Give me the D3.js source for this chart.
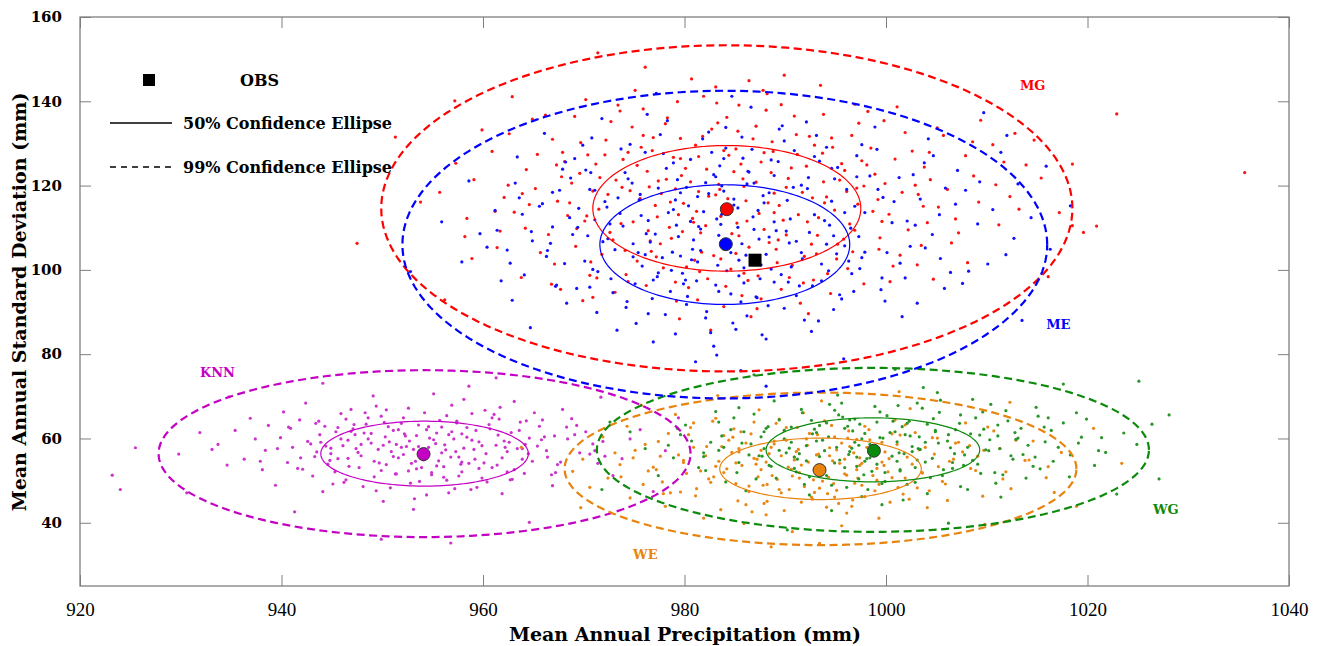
<!DOCTYPE html>
<html>
<head>
<meta charset="utf-8">
<script src="https://cdn.jsdelivr.net/npm/d3@7"></script>
<style>
  body { margin: 0; background: #fff; }
  svg { display: block; }
  .tick text { fill: #000; }
</style>
</head>
<body>
<svg id="chart" width="1321" height="646"></svg>
<script>
// axis ticks
var xTicks = [920, 940, 960, 980, 1000, 1020, 1040];
var yTicks = [40, 60, 80, 100, 120, 140, 160];

// group names, colours and label positions (data coords)
var groups = ['KNN', 'WE', 'WG', 'MG', 'ME'];
var groupColors = ['#c400c4', '#e8830e', '#0b8a0b', '#ff0000', '#0000ff'];
var pointColors = ['#cc33cc', '#ea8614', '#2a962a', '#ff1010', '#1010ff'];
var labelPos = [[931.9, 74.7], [974.9, 31.3], [1026.5, 42.2], [1013.3, 142.7], [1015.9, 86.0]];

// mean of each ensemble (big dots)
var meanX = [954.1, 993.4, 998.8, 984.2, 984.1];
var meanY = [56.3, 52.5, 57.1, 114.4, 106.1];

// confidence ellipses: centre, semi-axes
var ellCx = [954.2, 993.5, 998.7, 984.2, 984.0];
var ellCy = [56.4, 52.8, 57.3, 114.6, 106.0];
var rx50 = [10.3, 10.0, 10.6, 13.3, 12.4];
var ry50 = [7.7, 7.3, 7.6, 14.9, 14.2];
var rx99 = [26.4, 25.4, 27.4, 34.3, 32.0];
var ry99 = [19.8, 18.1, 19.45, 38.7, 36.5];

// observation
var obsX = 987.0, obsY = 102.3;

// ensemble members (read approx. off the picture)
var knnPoints = [[954.6,57.9],[948.2,61.3],[960.1,54.2],[943.5,56.8],[965.8,59.7],[951.3,51.6],[957.4,64.1],[939.9,60.2],[962.9,50.3],[946.7,53.4],
[955.9,62.7],[971.1,57.1],[950.4,66.8],[958.8,47.9],[936.3,55.1],[963.7,63.9],[945.1,49.2],[952.7,59.4],[967.4,53.8],[941.8,64.4],
[956.8,55.6],[949.6,57.4],[961.5,60.8],[944.3,62.9],[953.2,45.7],[970.2,61.6],[947.9,55.9],[958.1,69.3],[933.7,58.6],[964.5,56.4],
[951.9,63.6],[943.1,51.1],[959.6,52.9],[955.3,58.8],[938.7,63.1],[966.9,48.8],[949.1,70.1],[961.1,65.7],[946.1,58.3],[973.8,55.2],
[953.9,53.1],[940.6,54.3],[957.9,61.1],[962.2,57.9],[950.8,48.3],[945.9,65.9],[968.8,64.7],[954.2,66.1],[935.4,61.9],[959.2,55.1],
[947.3,60.9],[964.1,51.7],[952.1,56.2],[942.4,68.4],[960.7,62.3],[956.1,50.8],[971.9,59.3],[944.9,57.7],[949.9,52.4],[963.1,68.8],
[929.8,56.3],[957.1,59.9],[953.1,43.2],[938.1,52.6],[966.1,60.4],[948.6,64.9],[961.9,46.9],[951.1,61.9],[975.6,62.1],[943.9,59.1],
[955.6,54.7],[958.6,72.4],[946.4,50.2],[969.6,56.6],[940.2,66.3],[952.4,58.1],[964.9,54.6],[949.4,67.7],[957.6,51.1],[934.6,53.7],
[962.6,59.1],[945.6,55.2],[953.6,63.2],[967.9,66.9],[941.1,57.9],[959.9,58.3],[950.1,45.1],[956.4,65.4],[947.1,62.3],[972.9,51.2],
[937.4,59.9],[961.4,53.7],[954.9,51.9],[943.7,64.1],[965.4,58.2],[951.6,55.4],[958.4,62.6],[948.9,58.9],[978.1,57.1],[939.4,48.9],
[956.6,47.1],[963.6,61.9],[946.9,66.9],[953.4,60.7],[960.4,49.7],[944.6,53.9],[970.9,58.7],[950.6,62.8],[957.3,56.9],[931.9,61.4],
[966.4,55.6],[942.9,58.7],[955.1,70.6],[948.1,48.6],[961.7,67.4],[952.9,54.1],[936.9,64.8],[964.3,64.2],[945.4,61.6],[959.1,57.4],
[951.4,58.6],[974.6,59.9],[947.6,56.7],[956.9,61.6],[940.9,62.4],[962.4,52.1],[953.7,49.8],[968.3,62.7],[943.3,55.7],[958.9,59.6],
[949.2,54.6],[965.1,66.1],[955.4,53.5],[938.4,57.2],[960.9,64.9],[946.6,59.6],[952.6,67.2],[971.4,54.1],[944.1,47.4],[957.9,54.4],
[963.9,57.6],[950.3,60.4],[941.6,52.9],[954.4,62.1],[967.2,51.9],[948.4,63.4],[959.4,48.4],[933.1,57.4],[956.2,58.5],[969.1,60.9],
[923.2,51.3],[924.0,47.9],[925.5,57.8],[930.6,47.1],[956.8,35.2],[949.9,36.1],[944.1,73.1],[961.3,74.4],[976.9,47.4],[979.4,64.9],
[934.8,69.9],[971.7,69.8],[964.6,40.1],[941.3,42.6],
[953.9,56.1],[950.7,59.2],[957.8,53.9],[947.4,57.6],[961.3,58.4],[954.9,51.4],[951.6,62.1],[958.4,60.3],[944.8,54.8],[963.9,55.1],
[955.7,64.3],[949.2,50.9],[960.6,63.3],[946.9,61.7],[953.3,54.6],[966.3,57.1],[942.6,59.3],[957.2,48.1],[951.1,55.7],[962.8,61.4],
[948.3,66.1],[955.1,59.7],[959.9,50.6],[945.6,62.6],[952.6,52.3],[968.4,59.9],[956.3,57.3],[941.9,55.4],[963.1,52.6],[950.2,63.8],
[954.4,46.6],[958.9,65.9],[947.7,53.1],[965.6,62.9],[952.3,60.6],[939.6,57.6],[960.3,56.4],[956.9,67.9],[946.2,49.6],[967.7,54.4],
[951.9,57.9],[962.1,59.4],[943.8,60.9],[957.6,55.6],[949.7,54.2],[970.6,56.3],[954.6,62.8],[945.3,52.1],[959.3,61.9],[952.8,49.4],
[964.6,60.1],[948.6,59.9],[956.1,53.3],[940.7,62.7],[961.6,64.6],[953.6,58.1],[947.2,63.3],[966.8,51.4],[950.9,56.9],[958.1,57.7],
[944.4,58.2],[962.4,56.9],[955.4,61.3],[949.4,47.6],[969.3,63.1],[952.1,64.9],[957.9,52.1],[946.6,55.3],[960.9,53.1],[953.1,57.4],
[937.9,54.6],[964.2,58.6],[950.4,53.8],[956.6,60.9],[948.9,61.2],[972.1,55.8],[954.1,54.9],[943.4,63.6],[959.6,59.2],[951.4,51.6],
[965.9,64.4],[947.9,58.6],[957.4,63.7],[953.4,52.8],[961.9,55.4],[945.9,59.9],[955.9,56.6],[949.9,65.3],[963.4,57.6],[942.1,52.7],
[958.6,54.1],[952.2,61.1],[967.1,60.6],[944.9,56.4],[956.4,50.1],[950.1,58.4],[960.2,66.7],[954.7,60.1],[946.4,64.6],[962.7,50.2]];

var wePoints = [[993.9,53.1],[987.6,57.2],[999.1,50.1],[983.4,54.6],[1004.8,56.3],[990.4,47.9],[996.2,60.1],[980.2,51.7],[1001.7,46.8],[986.1,58.9],
[994.8,49.3],[977.6,55.8],[991.2,62.6],[1008.9,52.4],[985.3,45.2],[998.1,57.9],[972.4,50.6],[993.1,56.1],[1002.9,61.4],[988.7,51.2],
[983.9,60.7],[996.7,45.4],[990.9,54.9],[1011.3,57.6],[979.6,47.3],[999.8,53.6],[986.9,63.9],[994.1,43.7],[975.1,57.2],[1005.6,49.8],
[992.2,58.4],[981.6,52.3],[997.4,55.4],[988.1,41.9],[1013.8,54.8],[984.7,56.7],[1000.9,64.4],[978.4,61.2],[995.9,51.6],[989.6,47.1],
[1007.2,59.1],[987.1,53.9],[974.6,45.9],[1003.6,51.9],[991.8,66.1],[982.6,49.6],[998.9,47.6],[969.9,55.1],[995.1,57.3],[985.9,39.8],
[1009.6,46.3],[990.1,59.6],[976.9,53.2],[1001.1,58.6],[993.4,48.2],[983.1,64.8],[997.9,62.9],[987.9,44.6],[1015.9,50.7],[980.9,57.9],
[994.4,55.9],[1004.1,43.6],[971.9,60.4],[989.2,50.3],[999.6,54.4],[985.6,61.6],[1006.7,55.1],[978.1,43.9],[992.7,45.6],[1002.4,67.1],
[988.4,56.4],[981.1,46.4],[996.9,49.4],[1010.7,61.8],[975.9,49.1],[991.4,51.9],[1000.4,44.9],[984.2,52.8],[1017.4,56.7],[994.6,63.1],
[986.4,48.7],[973.6,53.8],[998.4,59.7],[990.7,37.9],[1005.2,53.3],[982.2,58.1],[996.1,42.3],[979.1,65.7],[1003.1,48.3],[989.9,61.9],
[992.9,47.2],[1012.4,48.1],[977.4,59.3],[995.4,54.1],[987.4,66.8],[1001.9,50.6],[983.6,43.1],[970.6,48.4],[997.1,52.6],[1007.9,63.7],
[991.1,56.9],[985.1,54.2],[1014.6,59.4],[999.3,41.1],[980.6,62.6],[994.9,46.1],[988.9,58.7],[1003.9,57.9],[976.4,52.3],[993.6,68.9],
[982.9,50.9],[1000.6,61.1],[986.7,42.6],[1009.1,55.8],[997.6,48.9],[973.1,56.6],[990.6,52.7],[1006.1,45.3],[984.8,60.3],[995.6,39.3],
[979.9,54.8],[1002.1,55.6],[988.2,49.1],[1011.9,52.1],[993.2,60.9],[977.9,46.9],[998.7,51.2],[985.4,57.6],[1004.6,60.2],[991.6,44.9],
[968.9,52.2],[996.4,58.1],[1016.7,47.2],[987.2,55.1],[981.9,41.1],[999.9,56.8],[974.3,62.9],[994.3,50.8],[1008.3,58.3],[989.4,64.6],
[993.4,35.1],[1018.9,43.9],[969.7,43.6],[975.7,67.9],[1020.6,62.4],[1001.3,71.1],[983.3,70.2],[963.8,57.9],[1023.4,54.1],[988.6,34.3],
[1012.3,68.6],[1009.8,39.6],
[993.1,52.4],[989.6,55.9],[997.2,50.6],[985.7,53.6],[1000.3,55.2],[991.9,48.6],[995.6,58.9],[982.4,50.4],[1003.6,51.8],[988.9,59.4],
[994.2,46.9],[979.9,54.3],[998.3,62.1],[986.4,47.4],[1006.3,54.6],[990.3,53.2],[996.8,56.6],[983.7,58.1],[1001.2,48.4],[992.4,61.2],
[987.3,50.9],[999.6,59.1],[977.2,52.6],[994.7,54.7],[1009.7,57.2],[988.2,45.1],[996.1,51.3],[984.9,62.3],[1002.6,53.9],[991.3,57.4],
[981.2,48.1],[997.9,46.2],[989.1,63.6],[1005.1,60.1],[993.7,49.9],[976.1,58.6],[999.1,52.9],[986.9,55.3],[1011.6,50.4],[992.1,59.9],
[983.1,53.4],[995.3,44.6],[990.7,51.1],[1007.6,56.8],[980.4,60.9],[997.6,54.1],[987.8,48.9],[1001.9,63.2],[994.4,57.8],[978.6,47.1],
[991.6,53.7],[1004.3,47.6],[985.4,56.8],[998.7,58.4],[989.9,42.9],[1012.9,59.6],[983.9,51.9],[996.3,61.8],[992.8,50.2],[974.9,55.4],
[1000.6,50.7],[988.6,57.9],[995.1,47.7],[982.8,64.1],[1008.4,52.9],[990.9,55.6],[997.4,53.6],[986.1,44.3],[1003.3,57.3],[993.9,64.2],
[979.4,56.1],[999.3,49.1],[987.6,52.6],[1014.2,54.9],[992.6,46.1],[984.4,59.6],[1001.4,60.8],[995.9,55.1],[977.8,49.7],[990.1,62.6],
[1005.9,49.2],[988.1,54.4],[996.6,43.9],[982.1,55.9],[998.9,56.1],[991.4,50.6],[1010.1,62.7],[985.1,49.3],[994.9,60.4],[1002.3,45.6],
[980.9,63.7],[993.3,56.3],[1006.9,58.9],[989.4,47.9],[997.1,59.8],[973.7,50.9],[992.3,54.4],[1016.1,53.3],[986.6,61.1],[1000.2,52.1]];

var wgPoints = [[998.4,58.6],[1004.9,61.9],[992.1,54.7],[1010.2,57.1],[987.6,60.4],[1001.4,52.3],[995.7,65.1],[1014.8,55.6],[983.9,57.9],[1007.3,63.6],
[999.9,49.8],[990.6,62.7],[1019.4,60.3],[996.3,56.2],[1003.1,68.4],[985.2,51.9],[1011.6,51.4],[993.7,59.6],[1006.6,54.3],[980.1,63.2],
[1001.9,60.9],[997.1,53.4],[1016.1,64.9],[989.4,57.2],[1008.1,47.9],[994.9,66.7],[1002.6,56.9],[978.9,55.4],[1012.9,59.8],[991.9,49.1],
[999.1,63.9],[1021.8,56.7],[986.9,65.8],[1004.4,50.7],[993.1,61.4],[1009.6,66.3],[982.6,59.1],[997.6,46.2],[1015.3,52.8],[1000.6,55.8],
[988.4,53.6],[1006.1,59.4],[995.2,70.3],[1013.4,62.4],[976.1,57.6],[1002.3,64.1],[991.4,56.4],[1018.2,50.9],[997.9,61.2],[984.6,62.1],
[1007.8,56.1],[994.1,51.2],[1003.7,72.1],[989.9,59.9],[1011.1,60.6],[999.6,44.3],[981.4,53.1],[1005.3,66.2],[996.6,57.7],[1023.6,61.3],
[992.6,64.3],[1009.1,53.9],[986.1,47.6],[1001.1,59.2],[1017.1,57.9],[995.4,54.9],[979.6,60.9],[1004.1,46.9],[998.9,67.6],[1012.1,64.2],
[990.4,57.7],[1005.7,52.6],[983.1,66.4],[1001.6,62.8],[994.6,42.9],[1014.1,58.4],[987.4,55.9],[1008.6,69.3],[997.3,50.4],[1020.7,53.6],
[985.7,58.9],[1003.4,57.4],[993.4,63.1],[1010.9,49.4],[977.4,51.2],[999.4,60.2],[1006.9,62.1],[988.9,68.9],[1015.7,62.7],[996.1,48.4],
[1002.9,53.1],[974.6,61.6],[991.1,52.1],[1009.9,57.3],[998.1,55.2],[984.1,49.7],[1018.9,66.1],[993.9,57.1],[1005.1,70.9],[1000.1,65.4],
[987.9,61.6],[1012.6,55.1],[996.9,59.1],[981.9,56.6],[1007.4,48.6],[991.7,66.1],[1003.9,54.4],[1024.9,58.6],[995.9,62.4],[1010.4,68.1],
[989.1,50.6],[1001.3,56.6],[983.4,63.9],[1013.1,60.1],[998.6,52.2],[992.4,46.6],[1016.6,54.6],[1004.7,64.7],[986.4,56.1],[1000.9,61.6],
[994.4,68.1],[1008.4,61.1],[978.4,58.4],[1002.1,49.1],[997.4,63.4],[1019.9,64.6],[990.9,55.6],[1011.4,46.1],[985.4,67.3],[999.2,57.1],
[1006.4,57.8],[993.1,52.9],[1014.9,67.4],[982.1,52.4],[1003.3,60.4],[996.4,64.4],[1009.4,51.7],[988.1,62.4],[1001.7,45.4],[1021.1,57.1],
[1025.1,73.6],[1028.1,65.6],[1026.4,63.4],[1000.9,76.4],[972.6,63.9],[1022.9,46.8],[986.9,75.1],[1017.6,72.9],[990.2,38.3],[1006.2,39.9],
[971.8,47.9],[1027.1,50.4],
[998.6,57.1],[1002.4,60.6],[994.9,54.2],[1006.8,56.4],[990.6,59.1],[999.9,51.9],[1004.1,63.4],[987.7,55.8],[1010.3,59.7],[996.2,62.9],
[1001.1,54.6],[992.4,50.9],[1013.6,56.2],[997.6,59.9],[985.9,61.6],[1005.6,51.2],[995.1,57.9],[1008.9,64.9],[991.2,55.1],[1003.2,57.6],
[999.4,66.3],[983.4,57.2],[1016.4,61.9],[994.3,60.4],[1002.9,49.6],[989.4,64.4],[1007.7,53.6],[997.1,55.6],[1011.9,66.6],[993.6,52.3],
[1000.4,61.4],[980.7,59.4],[1014.6,53.4],[996.9,64.6],[1005.2,58.9],[988.6,53.4],[1001.8,56.4],[1019.1,58.9],[992.9,62.2],[998.2,47.9],
[1009.7,62.2],[986.6,58.7],[1004.6,55.3],[995.6,68.4],[1012.4,55.9],[990.1,56.6],[1002.1,63.6],[999.1,53.9],[1017.6,63.7],[984.9,64.9],
[1006.2,60.9],[994.6,48.9],[1003.6,67.2],[989.9,61.9],[1010.8,51.9],[997.3,58.4],[981.9,55.7],[1008.1,57.9],[993.1,59.4],[1001.4,52.6],
[1015.1,65.3],[996.4,56.9],[987.1,50.4],[1004.9,61.6],[999.7,60.1],[991.6,66.9],[1011.3,57.6],[995.9,53.1],[1021.4,60.2],[1003.1,54.9],
[988.3,62.8],[1007.4,65.6],[998.4,55.4],[992.1,58.3],[1013.9,50.6],[1000.7,64.1],[985.4,54.3],[1006.6,52.9],[994.1,63.7],[1009.3,60.8],
[997.8,51.4],[983.7,60.6],[1002.6,58.1],[990.9,52.9],[1018.3,56.1],[996.7,61.8],[1005.4,69.1],[993.4,55.7],[1011.1,63.2],[999.6,49.3],
[987.9,57.6],[1003.9,59.1],[1015.8,59.2],[995.3,65.6],[1008.6,54.8],[979.3,62.4],[1001.2,67.8],[992.7,61.1],[1012.8,61.4],[997.9,54.6]];

var mgPoints = [[984.5,114.0],[978.2,121.5],[990.1,108.3],[972.4,117.9],[995.6,125.2],[981.0,102.3],[988.7,130.4],[969.3,109.8],[999.2,116.7],[976.8,128.3],
[986.3,97.5],[962.5,120.1],[1004.1,111.2],[983.2,139.6],[991.5,92.1],[974.1,104.6],[997.3,134.8],[966.9,131.0],[1008.7,122.3],[979.5,88.4],
[985.9,119.8],[982.1,110.5],[989.4,115.3],[977.3,112.6],[993.8,120.9],[970.6,98.7],[1001.4,103.5],[975.9,138.2],[994.2,99.1],[987.6,125.6],
[958.4,112.2],[1012.3,117.4],[980.4,95.8],[968.1,125.7],[998.5,128.9],[983.7,106.9],[973.2,121.3],[990.9,136.5],[965.7,104.1],[1003.8,124.4],
[981.8,131.7],[996.4,110.9],[971.5,114.4],[986.9,102.8],[979.1,119.2],[992.7,117.1],[976.2,96.3],[988.2,141.8],[960.9,128.1],[1006.5,106.4],
[984.9,123.3],[974.8,133.9],[999.9,120.5],[967.4,116.3],[993.1,103.8],[982.6,85.7],[970.2,140.4],[1010.6,129.7],[978.7,107.5],[989.8,111.8],
[963.8,98.2],[1001.9,132.6],[985.4,108.1],[975.3,124.8],[997.8,96.7],[980.7,145.3],[991.2,127.4],[968.8,120.6],[1005.2,114.9],[983.9,91.3],
[972.9,107.1],[994.9,114.2],[987.1,134.1],[977.9,100.5],[1015.4,121.8],[955.7,118.4],[989.1,104.9],[981.4,126.9],[966.2,136.7],[1000.7,100.9],
[985.1,128.7],[973.7,111.0],[996.9,139.3],[979.9,115.8],[992.3,89.6],[961.7,109.2],[1007.9,127.1],[976.5,119.7],[988.9,118.2],[970.9,93.5],
[982.9,103.4],[998.9,122.7],[967.9,127.9],[990.4,98.2],[975.1,142.6],[1003.2,117.9],[984.2,136.2],[978.5,110.1],[994.6,131.3],[964.6,115.5],
[1011.2,110.7],[987.4,113.4],[971.8,103.7],[999.4,107.6],[980.1,124.1],[993.5,143.8],[969.6,122.9],[985.7,93.9],[1002.6,128.2],[976.9,131.4],
[957.3,125.3],[990.3,121.7],[982.4,117.5],[974.4,97.2],[1009.4,135.5],[988.4,106.5],[963.1,113.7],[996.1,118.6],[979.3,139.9],[1013.9,124.9],
[986.6,88.9],[972.2,130.8],[1000.3,113.2],[983.4,120.3],[967.1,101.4],[992.9,129.6],[977.6,106.2],[1004.7,97.8],[981.2,113.9],[959.9,133.2],
[995.2,106.1],[975.6,116.9],[989.9,146.2],[970.1,111.6],[1006.1,119.1],[984.6,100.2],[962.9,141.1],[998.2,137.6],[979.7,122.4],[991.8,96.9],
[966.5,108.4],[987.9,127.8],[1017.2,113.6],[973.9,126.2],[982.3,97.9],[993.3,112.4],[976.1,148.1],[1002.2,109.5],[953.8,116.1],[985.3,132.9],
[969.9,92.7],[997.6,125.9],[980.9,111.3],[988.6,123.1],[974.6,118.8],[1008.1,101.7],[983.1,143.4],[964.3,123.8],[994.5,94.4],[977.2,103.1],
[1001.1,138.7],[986.1,116.4],[961.4,105.3],[991.1,132.1],[972.7,135.2],[1004.4,121.4],[981.6,108.8],[968.4,112.9],[996.7,104.3],[987.2,90.8],
[975.7,129.1],[1014.7,130.8],[979.2,92.6],[992.1,124.6],[965.2,119.3],[999.6,111.5],[984.4,127.2],[958.9,102.7],[989.6,139.2],[971.2,125.1],
[1003.5,105.8],[978.1,134.7],[993.9,115.9],[983.6,112.7],[967.7,95.4],[1010.9,120.2],[976.4,109.3],[986.4,144.9],[962.1,117.2],[997.1,119.4],
[981.5,99.6],[1019.6,108.9],[973.4,139.1],[990.7,101.1],[985.2,111.1],[970.4,127.3],[1005.7,131.9],[979.6,126.4],[995.8,107.3],[964.9,135.8],
[1035.6,123.1],[1022.9,137.0],[1020.9,110.4],[1018.5,125.1],[1018.5,110.5],[947.5,106.3],[957.2,140.1],[971.4,151.5],[1012.8,132.4],[951.3,131.5],
[1016.1,98.4],[956.2,92.9],
[983.1,117.8],[987.9,109.6],[979.4,113.1],[991.7,118.4],[976.6,106.9],[985.6,125.1],[989.2,101.7],[973.8,119.6],[995.4,121.3],[981.7,104.2],
[986.8,131.1],[970.3,112.8],[998.7,113.9],[978.9,126.7],[992.6,106.1],[967.8,122.1],[1002.9,120.1],[984.1,96.1],[975.3,102.1],[993.7,127.7],
[980.6,120.9],[988.3,115.9],[972.1,127.3],[996.2,100.3],[982.7,133.4],[969.2,105.6],[1000.9,126.3],[985.1,103.9],[977.1,115.3],[990.6,124.2],
[963.9,118.1],[1006.9,112.1],[983.9,128.3],[974.2,98.9],[994.1,117.3],[979.8,109.1],[988.1,137.9],[971.6,121.9],[999.3,104.9],[986.2,111.6],
[965.4,127.4],[1004.3,127.9],[981.3,92.9],[991.3,113.1],[976.3,123.4],[996.6,131.9],[983.5,119.1],[970.7,101.9],[1009.2,116.1],[987.3,98.6],
[978.3,136.1],[993.2,108.2],[961.2,113.9],[985.8,121.6],[999.8,135.4],[974.9,111.4],[989.6,95.4],[981.9,141.2],[966.8,96.6],[1003.1,101.2],
[977.7,118.1],[992.4,131.7],[984.7,108.6],[969.7,130.2],[997.2,115.6],[980.2,100.7],[1011.7,125.6],[988.8,128.1],[973.1,94.7],[995.9,123.6],
[982.2,123.9],[959.1,121.4],[1001.6,118.4],[986.4,105.4],[975.9,131.9],[990.1,119.6],[979.1,97.1],[1007.2,108.8],[968.6,115.9],[993.8,136.9],
[984.3,116.9],[972.6,108.9],[998.1,124.9],[981.1,129.6],[987.6,93.1],[964.2,109.9],[1005.1,133.7],[977.4,121.1],[991.9,103.2],[983.6,102.6],
[970.9,118.7],[996.9,109.4],[979.6,131.2],[988.9,113.6],[1013.2,114.4],[974.4,127.9],[992.8,97.6],[985.4,139.1],[962.6,132.3],[1000.4,97.2],
[980.8,112.2],[994.7,129.1],[976.7,104.4],[987.1,120.8],[967.3,124.9],[1003.7,115.1],[983.3,134.9],[971.3,98.1],[997.8,119.9],[989.3,107.1],
[978.6,116.1],[1008.6,130.4],[985.9,99.2],[973.6,137.7],[992.2,111.4],[981.4,118.6],[958.2,107.9],[995.1,102.6],[987.8,142.6],[969.1,136.4]];

var mePoints = [[983.8,105.7],[990.5,112.1],[977.4,99.3],[995.1,103.8],[972.6,110.9],[986.2,120.4],[980.3,93.7],[999.7,117.2],[968.1,101.5],[988.9,97.1],
[975.5,116.6],[993.4,125.8],[982.1,88.6],[1004.6,108.4],[963.9,113.2],[985.7,131.5],[978.8,104.2],[996.8,94.9],[970.2,123.7],[991.1,106.8],
[981.4,110.3],[987.6,101.2],[974.3,92.5],[1001.3,121.9],[966.7,106.3],[984.9,115.4],[992.6,85.4],[977.9,127.6],[1008.2,99.7],[973.1,104.8],
[986.9,109.6],[979.6,118.3],[995.9,113.6],[961.8,97.4],[983.2,79.8],[989.7,134.2],[976.4,111.7],[1003.1,92.1],[970.8,131.3],[985.4,98.6],
[997.9,104.2],[980.7,102.4],[967.6,118.9],[992.2,119.3],[975.2,87.3],[1010.6,114.3],[983.5,124.7],[988.3,91.5],[972.7,97.9],[999.1,128.6],
[964.8,109.1],[986.1,103.5],[978.3,135.4],[994.3,99.8],[981.9,113.8],[1005.4,102.7],[969.5,114.6],[990.2,116.5],[976.9,82.9],[984.6,94.3],
[958.6,121.1],[996.5,109.9],[982.7,127.9],[971.3,89.9],[1001.9,98.1],[987.3,114.1],[974.8,120.6],[993.1,131.9],[980.1,97.6],[966.3,103.2],
[1012.7,107.5],[985.1,85.9],[977.1,108.5],[991.7,102.6],[969.1,126.4],[998.4,122.3],[983.9,118.7],[962.9,92.8],[988.6,126.1],[975.8,100.9],
[1006.9,115.6],[980.9,107.1],[994.8,90.6],[972.1,116.2],[986.6,138.6],[978.6,94.9],[1000.6,111.2],[967.2,96.1],[989.1,109.3],[983.3,101.1],
[974.6,129.8],[996.1,119.1],[960.4,105.4],[991.4,96.2],[979.3,121.4],[1003.8,125.4],[985.6,92.4],[970.4,108.1],[994.1,106.1],[982.4,132.7],
[965.9,115.7],[988.1,83.6],[976.1,103.6],[1009.3,120.9],[983.6,110.8],[971.8,135.9],[997.4,100.3],[980.4,115.2],[992.9,113.1],[957.9,101.9],
[986.4,123.2],[978.1,89.4],[1002.4,105.6],[968.7,121.8],[990.9,128.3],[975.1,96.7],[984.3,106.9],[999.5,95.3],[963.4,126.8],[987.8,117.6],
[981.1,78.2],[994.6,124.1],[973.6,113.4],[1014.4,112.4],[985.9,100.5],[977.6,132.1],[991.9,88.1],[966.9,110.2],[1004.2,131.1],[982.9,122.6],
[970.9,100.1],[996.9,115.1],[979.1,84.8],[988.4,107.8],[974.1,123.1],[1007.6,96.8],[984.1,128.9],[961.2,114.1],[993.6,97.4],[980.6,111.5],
[1000.1,104.1],[976.6,106.6],[989.4,133.4],[968.3,92.1],[985.3,114.7],[997.1,127.1],[972.4,107.4],[983.1,96.4],[1010.1,101.4],[978.9,125.4],
[991.6,120.1],[964.1,98.8],[987.1,93.6],[975.6,117.9],[998.9,133.9],[981.6,104.6],[969.9,129.6],[994.4,110.6],[984.7,141.2],[959.7,108.6],
[1005.9,119.4],[979.8,99.2],[990.6,100.7],[973.3,85.7],[986.8,112.6],[1001.6,88.9],[967.9,123.9],[983.7,119.9],[995.6,93.1],[976.3,136.9],
[988.9,122.4],[971.1,111.9],[1016.3,104.9],[982.2,90.1],[963.6,117.1],[992.4,108.9],[977.3,98.4],[1003.4,116.8],[985.8,126.5],[969.3,95.6],
[997.6,129.7],[980.2,119.6],[955.9,111.4],[989.9,90.9],[974.9,103.1],[1011.4,127.9],[983.4,108.2],[966.1,132.4],[994.9,121.6],[978.4,113.6],
[987.5,97.9],[1002.9,110.6],[970.6,119.1],[984.8,87.4],[992.1,135.1],[976.8,93.2],[1007.1,123.6],[981.3,101.9],[962.4,104.7],[996.3,102.1],
[1015.9,124.6],[1013.5,88.0],[1012.0,131.9],[985.6,76.1],[977.2,141.9],[995.8,78.9],[952.8,99.6],[1018.3,115.2],[964.7,86.3],[1009.7,137.3],
[988.1,72.4],
[984.6,104.1],[979.2,110.6],[989.6,98.9],[974.9,106.2],[993.9,111.7],[981.3,117.4],[987.2,93.4],[971.4,99.6],[997.3,107.9],[983.1,122.1],
[976.4,89.6],[990.8,119.6],[968.6,112.4],[1001.4,101.6],[985.3,110.1],[979.9,96.7],[995.2,124.3],[973.4,117.1],[988.1,103.7],[982.6,85.1],
[1005.3,113.1],[966.4,104.6],[986.7,128.6],[977.8,102.9],[992.7,96.2],[970.7,123.1],[999.2,119.1],[984.2,99.8],[975.7,112.9],[990.1,109.2],
[962.7,101.6],[1003.9,105.2],[981.8,131.1],[987.9,115.9],[972.9,94.6],[996.6,99.1],[983.7,113.2],[978.2,124.1],[993.3,87.9],[968.9,108.4],
[1009.1,110.9],[985.9,96.9],[974.4,121.6],[989.3,125.7],[980.8,104.9],[999.9,92.6],[965.6,115.1],[987.4,107.3],[976.9,97.6],[994.6,116.3],
[982.4,118.1],[971.9,106.7],[1002.7,122.6],[986.2,89.1],[978.9,114.3],[991.6,104.1],[967.3,96.4],[997.9,113.6],[983.9,126.4],[973.9,110.4],
[988.6,100.2],[980.2,91.8],[1006.4,99.4],[976.1,127.9],[992.3,121.9],[985.4,102.3],[963.2,120.6],[995.9,105.7],[979.4,107.9],[989.9,130.6],
[970.1,102.1],[1000.8,116.2],[983.4,94.9],[977.4,119.4],[993.6,101.4],[986.9,120.6],[974.2,91.1],[1004.7,127.1],[981.6,109.7],[968.2,125.6],
[991.1,93.9],[979.6,103.3],[997.1,122.1],[984.9,116.8],[972.3,114.9],[988.9,111.4],[961.4,109.4],[1011.9,103.6],[982.9,81.9],[994.1,129.1],
[976.2,108.6],[986.3,123.4],[999.6,98.1],[980.6,126.2],[970.6,95.9],[990.4,106.4],[1007.9,118.9],[983.2,112.1],[966.9,118.4],[995.4,94.1],
[978.7,99.9],[988.4,118.3],[973.7,128.7],[1002.1,111.6],[985.7,106.2],[981.2,97.4],[992.9,126.9],[969.4,110.1],[997.6,102.9],[984.1,133.8],
[975.4,104.1],[990.3,97.1],[1013.1,120.4],[979.1,116.6],[987.7,84.6],[964.9,106.9],[994.8,108.1],[982.1,120.7],[971.1,118.9],[1005.8,95.6]];

var groupPoints = [knnPoints, wePoints, wgPoints, mgPoints, mePoints];

var svg = d3.select('#chart');
var x = d3.scaleLinear().domain([920, 1040]).range([80, 1289]);
var y = d3.scaleLinear().domain([25, 160]).range([586, 17]);

var serif = '"DejaVu Serif", serif';
var tickFont = '"Liberation Serif", serif';

// ---- axes (ticks pointing inward, frame all round)
var axisColor = '#7f7f7f';
function styleAxis(g) {
  g.selectAll('.domain').remove();
  g.selectAll('.tick line').attr('stroke', axisColor);
}
svg.append('g').attr('transform', 'translate(0,586)')
  .call(d3.axisBottom(x).tickValues(xTicks).tickSizeInner(-11).tickSizeOuter(0).tickPadding(17).tickFormat(d3.format('d')))
  .call(styleAxis)
  .call(function(g) { g.selectAll('text').attr('font-family', tickFont).attr('font-size', 19); });
svg.append('g').attr('transform', 'translate(80,0)')
  .call(d3.axisLeft(y).tickValues(yTicks).tickSizeInner(-11).tickSizeOuter(0).tickPadding(18))
  .call(styleAxis)
  .call(function(g) { g.selectAll('text').attr('font-family', serif).attr('font-weight', 'bold').attr('font-size', 15); });
svg.append('g').attr('transform', 'translate(0,17)')
  .call(d3.axisTop(x).tickValues(xTicks).tickSizeInner(-11).tickSizeOuter(0).tickFormat(''))
  .call(styleAxis);
svg.append('g').attr('transform', 'translate(1289,0)')
  .call(d3.axisRight(y).tickValues(yTicks).tickSizeInner(-11).tickSizeOuter(0).tickFormat(''))
  .call(styleAxis);
svg.append('rect')
  .attr('x', x(920)).attr('y', y(160))
  .attr('width', x(1040) - x(920)).attr('height', y(25) - y(160))
  .attr('fill', 'none').attr('stroke', axisColor).attr('stroke-width', 1.3);

// axis titles
svg.append('text')
  .attr('x', 685).attr('y', 641)
  .attr('text-anchor', 'middle')
  .attr('font-family', serif).attr('font-weight', 'bold').attr('font-size', 19)
  .text('Mean Annual Precipitation (mm)');
svg.append('text')
  .attr('transform', 'translate(26,302) rotate(-90)')
  .attr('text-anchor', 'middle')
  .attr('font-family', serif).attr('font-weight', 'bold').attr('font-size', 19)
  .text('Mean Annual Standard Deviation (mm)');

// ---- scatter clouds
var plot = svg.append('g');
groups.forEach(function(name, i) {
  plot.append('g').selectAll('circle')
    .data(groupPoints[i])
    .enter().append('circle')
    .attr('cx', function(d) { return x(d[0]); })
    .attr('cy', function(d) { return y(d[1]); })
    .attr('r', 1.6)
    .attr('fill', pointColors[i]);
});

// ---- confidence ellipses
var angles = d3.range(0, 361, 2).map(function(a) { return a * Math.PI / 180; });
function ellipse(i, rx, ry) {
  return d3.line()
    .x(function(t) { return x(ellCx[i] + rx[i] * Math.cos(t)); })
    .y(function(t) { return y(ellCy[i] + ry[i] * Math.sin(t)); })(angles);
}
groups.forEach(function(name, i) {
  plot.append('path')
    .attr('d', ellipse(i, rx99, ry99))
    .attr('fill', 'none').attr('stroke', groupColors[i])
    .attr('stroke-width', 2.2).attr('stroke-dasharray', '8,4.5');
  plot.append('path')
    .attr('d', ellipse(i, rx50, ry50))
    .attr('fill', 'none').attr('stroke', groupColors[i])
    .attr('stroke-width', 1.2);
});

// ---- ensemble means
plot.selectAll('.mean')
  .data(groups)
  .enter().append('circle')
  .attr('class', 'mean')
  .attr('cx', function(d, i) { return x(meanX[i]); })
  .attr('cy', function(d, i) { return y(meanY[i]); })
  .attr('r', 6.5)
  .attr('fill', function(d, i) { return groupColors[i]; })
  .attr('stroke', '#333').attr('stroke-width', 1);

// observation
plot.append('rect')
  .attr('x', x(obsX) - 6.5).attr('y', y(obsY) - 6.5)
  .attr('width', 13).attr('height', 13)
  .attr('fill', '#000');

// group labels
svg.selectAll('.glabel')
  .data(groups)
  .enter().append('text')
  .attr('class', 'glabel')
  .attr('x', function(d, i) { return x(labelPos[i][0]); })
  .attr('y', function(d, i) { return y(labelPos[i][1]); })
  .attr('font-family', serif).attr('font-weight', 'bold').attr('font-size', 13)
  .attr('fill', function(d, i) { return groupColors[i]; })
  .text(function(d) { return d; });

// ---- legend
var legend = svg.append('g');
legend.append('rect').attr('x', 143).attr('y', 74).attr('width', 12).attr('height', 12).attr('fill', '#000');
legend.append('text').attr('x', 240).attr('y', 86).text('OBS');
legend.append('line').attr('x1', 110).attr('x2', 172).attr('y1', 123).attr('y2', 123)
  .attr('stroke', '#000').attr('stroke-width', 1.4);
legend.append('text').attr('x', 183).attr('y', 129).text('50% Confidence Ellipse');
legend.append('line').attr('x1', 110).attr('x2', 172).attr('y1', 167).attr('y2', 167)
  .attr('stroke', '#000').attr('stroke-width', 1.6).attr('stroke-dasharray', '6,5');
legend.append('text').attr('x', 183).attr('y', 173).text('99% Confidence Ellipse');
legend.selectAll('text')
  .attr('font-family', serif).attr('font-weight', 'bold').attr('font-size', 16);
</script>
</body>
</html>
